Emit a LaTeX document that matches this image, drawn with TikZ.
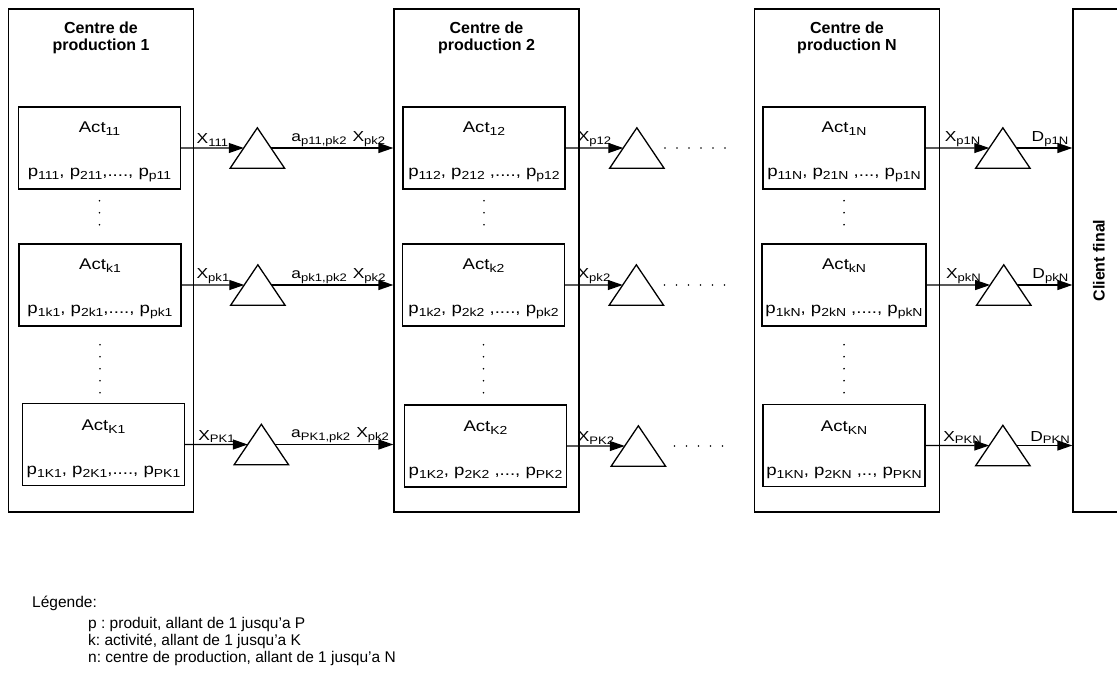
\documentclass[tikz,border=0pt]{standalone}
\usepackage{fontspec}
\setmainfont{Liberation Sans}
\newfontfamily\widesans{Liberation Sans}[FakeStretch=1.2]
\usetikzlibrary{arrows.meta,positioning,calc}
\frenchspacing

\makeatletter
\newcommand{\ix}[2]{#1\raisebox{-.35ex}{\fontsize{\strip@pt\dimexpr\f@size pt*3/4\relax}{1}\selectfont #2}}
\makeatother
\newcommand{\tp}{\rule{0pt}{19pt}}

\tikzset{
  centre/.style={draw, line width=1.3pt, minimum width=185pt, minimum height=503pt, inner sep=0pt},
  title/.style={font=\bfseries\fontsize{16}{17}\selectfont, align=center, inner sep=1pt},
  act/.style={draw, line width=1.3pt, minimum width=162pt, minimum height=82pt, align=center,
    font=\widesans\fontsize{15.5}{17}\selectfont},
  tri/.style={minimum width=54pt, minimum height=40pt, inner sep=0pt},
  arr/.style={line width=1.3pt, -{Triangle[length=15pt,width=10pt]}},
  lbl/.style={above, inner sep=1pt, font=\widesans\fontsize{14.5}{15}\selectfont},
  legend/.style={anchor=north west, align=left, inner sep=0pt, font=\fontsize{15.5}{17}\selectfont}
}

\begin{document}
\begin{tikzpicture}[x=1pt, y=-1pt]
  \path[use as bounding box, fill=white] (0,0) rectangle (1117,678);

  % centres de production
  \node[centre] (c1) at (101,260.5) {};
  \node[centre] (c2) at (486.5,260.5) {};
  \node[centre] (cN) at (847,260.5) {};
  \node[centre, minimum width=52pt] (client) at (1099,260.5) {};
  \node[title, below=12pt of c1.north] (h1) {Centre de\\production 1};
  \node[title, below=12pt of c2.north] (h2) {Centre de\\production 2};
  \node[title, below=12pt of cN.north] (hN) {Centre de\\production N};
  \node[title, rotate=90] (hc) at (client) {Client final};

  % activites
  \node[act] (a11) at (99.5,148) {\tp\ix{Act}{11}\\[27pt]\ix{p}{111}, \ix{p}{211},...., \ix{p}{p11}};
  \node[act] (ak1) at (100,285) {\tp\ix{Act}{k1}\\[27pt]\ix{p}{1k1}, \ix{p}{2k1},...., \ix{p}{pk1}};
  \node[act] (aK1) at (103.5,444.5) {\tp\ix{Act}{K1}\\[27pt]\ix{p}{1K1}, \ix{p}{2K1},...., \ix{p}{PK1}};
  \node[act] (a12) at (484,148) {\tp\ix{Act}{12}\\[27pt]\ix{p}{112}, \ix{p}{212} ,...., \ix{p}{p12}};
  \node[act] (ak2) at (483.5,285) {\tp\ix{Act}{k2}\\[27pt]\ix{p}{1k2}, \ix{p}{2k2} ,...., \ix{p}{pk2}};
  \node[act] (aK2) at (485.5,446) {\tp\ix{Act}{K2}\\[27pt]\ix{p}{1K2}, \ix{p}{2K2} ,..., \ix{p}{PK2}};
  \node[act] (a1N) at (844,148) {\tp\ix{Act}{1N}\\[27pt]\ix{p}{11N}, \ix{p}{21N} ,..., \ix{p}{p1N}};
  \node[act] (akN) at (844,285) {\tp\ix{Act}{kN}\\[27pt]\ix{p}{1kN}, \ix{p}{2kN} ,...., \ix{p}{pkN}};
  \node[act] (aKN) at (844,445.5) {\tp\ix{Act}{KN}\\[27pt]\ix{p}{1KN}, \ix{p}{2KN} ,.., \ix{p}{PKN}};

  % stocks
  \node[tri, right=49pt of a11] (t11) {};
  \node[tri, right=49pt of ak1] (tk1) {};
  \node[tri, right=49pt of aK1] (tK1) {};
  \node[tri, right=44pt of a12] (t12) {};
  \node[tri, right=44pt of ak2] (tk2) {};
  \node[tri, right=44pt of aK2] (tK2) {};
  \node[tri, right=50pt of a1N] (t1N) {};
  \node[tri, right=50pt of akN] (tkN) {};
  \node[tri, right=50pt of aKN] (tKN) {};
  \foreach \t in {t11,tk1,tK1,t12,tk2,tK2,t1N,tkN,tKN} {
    \draw[line width=1.3pt] (\t.south west) -- (\t.north) -- (\t.south east) -- cycle;
    \coordinate (\t-l) at ($(\t.south west)!.5!(\t.north)$);
    \coordinate (\t-r) at ($(\t.south east)!.5!(\t.north)$);
  }

  % flux
  \draw[arr] (a11.east) -- node[lbl] {\ix{X}{111}} (t11-l);
  \draw[arr] (ak1.east) -- node[lbl] {\ix{X}{pk1}} (tk1-l);
  \draw[arr] (aK1.east) -- node[lbl] {\ix{X}{PK1}} (tK1-l);
  \draw[arr] (t11-r) -- node[lbl, pos=.55] {\ix{a}{p11,pk2}\hspace{6pt}\ix{X}{pk2}} (t11-r -| c2.west);
  \draw[arr] (tk1-r) -- node[lbl, pos=.55] {\ix{a}{pk1,pk2}\hspace{6pt}\ix{X}{pk2}} (tk1-r -| c2.west);
  \draw[arr] (tK1-r) -- node[lbl, pos=.55] {\ix{a}{PK1,pk2}\hspace{6pt}\ix{X}{pk2}} (tK1-r -| c2.west);
  \draw[arr] (a12.east) -- node[lbl] {\ix{X}{p12}} (t12-l);
  \draw[arr] (ak2.east) -- node[lbl] {\ix{X}{pk2}} (tk2-l);
  \draw[arr] (aK2.east) -- node[lbl] {\ix{X}{PK2}} (tK2-l);
  \draw[arr] (a1N.east) -- node[lbl, pos=.58] {\ix{X}{p1N}} (t1N-l);
  \draw[arr] (akN.east) -- node[lbl, pos=.58] {\ix{X}{pkN}} (tkN-l);
  \draw[arr] (aKN.east) -- node[lbl, pos=.58] {\ix{X}{PKN}} (tKN-l);
  \draw[arr] (t1N-r) -- node[lbl, pos=.6] {\ix{D}{p1N}} (t1N-r -| client.west);
  \draw[arr] (tkN-r) -- node[lbl, pos=.6] {\ix{D}{pkN}} (tkN-r -| client.west);
  \draw[arr] (tKN-r) -- node[lbl, pos=.6] {\ix{D}{PKN}} (tKN-r -| client.west);

  % points de suspension
  \foreach \a/\b in {a11/ak1, a12/ak2, a1N/akN} {
    \foreach \i in {0,1,2}
      \fill ([yshift=-11pt-12pt*\i]\a.south) circle (0.9pt);
    \foreach \i in {0,...,4}
      \fill ([yshift=-18pt-12pt*\i]\b.south) circle (0.9pt);
  }
  \foreach \i in {0,...,5} {
    \fill ([xshift=1pt+12pt*\i]t12.east) circle (0.9pt);
    \fill ([xshift=1pt+12pt*\i]tk2.east) circle (0.9pt);
  }
  \foreach \i in {0,...,4}
    \fill ([xshift=9pt+12pt*\i]tK2.east) circle (0.9pt);

  % legende
  \node[legend] (leg) at (32,596) {Légende:};
  \node[legend] (legtxt) at (88,617) {p : produit, allant de 1 jusqu'a P\\
    k: activité, allant de 1 jusqu'a K\\
    n: centre de production, allant de 1 jusqu'a N};
\end{tikzpicture}
\end{document}
